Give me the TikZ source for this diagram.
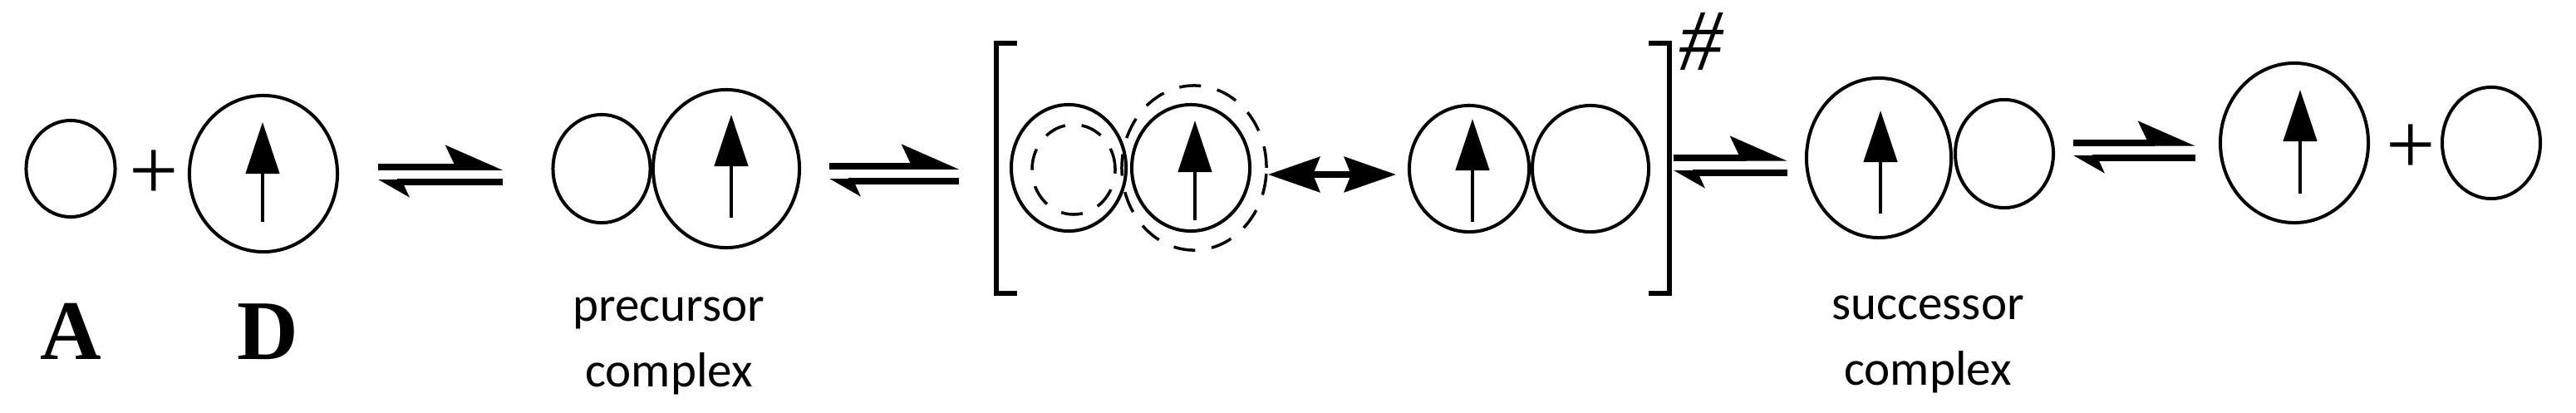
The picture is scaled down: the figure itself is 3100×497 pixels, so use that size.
\documentclass[tikz,border=0pt]{standalone}
\usepackage{fontspec}
\setmainfont{Carlito}
\newfontfamily\timesfont{Liberation Serif}
\usetikzlibrary{shapes.geometric}
\usetikzlibrary{arrows.meta}

\begin{document}
\begin{tikzpicture}[x=0.01cm, y=-0.01cm,
    mol/.style={ellipse, draw, line width=0.04cm, inner sep=0pt},
    shell/.style={ellipse, draw, line width=0.035cm, dash pattern=on 0.26cm off 0.2cm, inner sep=0pt},
    spin/.style={line width=0.045cm, -{Triangle[length=0.62cm, width=0.4cm]}},
    fwd/.style={line width=0.075cm, -{Stealth[harpoon, length=0.6cm, width=0.52cm, inset=0.12cm]}},
    bwd/.style={line width=0.075cm, -{Stealth[harpoon, length=0.32cm, width=0.36cm, inset=0.08cm]}},
    swap/.style={line width=0.08cm, {Stealth[length=0.62cm, width=0.42cm, inset=0.08cm]}-{Stealth[length=0.62cm, width=0.42cm, inset=0.08cm]}},
    plus/.style={font=\timesfont\fontsize{30}{36}\selectfont, inner sep=0pt},
    lbl/.style={font=\fontsize{16.8}{22.2}\selectfont, align=center, inner sep=0pt}]
    \useasboundingbox (0,0) rectangle (3100,497);
    % Reactants:
    \node[mol, minimum width=1.07cm, minimum height=1.16cm](N1) at (85,203){};
    \node[plus](P1) at (185,211){+};
    \node[mol, minimum width=1.78cm, minimum height=1.88cm](N2) at (317,209){};
    \draw[spin] (316,267) -- (316,147);
    \node[anchor=base, font=\timesfont\bfseries\fontsize{29}{35}\selectfont](L1) at (85,432){A};
    \node[anchor=base, font=\timesfont\bfseries\fontsize{29}{35}\selectfont](L2) at (322,432){D};
    % Equilibria:
    \coordinate (E1a) at (455,210); \coordinate (E1b) at (605,210);
    \coordinate (E2a) at (998,209); \coordinate (E2b) at (1154,209);
    \coordinate (E3a) at (2014,199); \coordinate (E3b) at (2151,199);
    \coordinate (E4a) at (2495,181); \coordinate (E4b) at (2642,181);
    \foreach \a/\b in {E1a/E1b, E2a/E2b, E3a/E3b, E4a/E4b}{
        \draw[fwd] ([yshift=0.09cm]\a) -- ([yshift=0.09cm]\b);
        \draw[bwd] ([yshift=-0.09cm]\b) -- ([yshift=-0.09cm]\a);
    }
    % Precursor complex:
    \node[mol, minimum width=1.17cm, minimum height=1.3cm](N3) at (724,203){};
    \node[mol, minimum width=1.76cm, minimum height=1.9cm](N4) at (874,203){};
    \draw[spin] (880,262) -- (880,138);
    \node[lbl, anchor=base](L3) at (805,465){precursor\\complex};
    % Transition state:
    \draw[line width=0.06cm] (1224,52) -- (1199,52) -- (1199,353) -- (1224,353);
    \node[mol, minimum width=1.38cm, minimum height=1.52cm](N5) at (1286,202){};
    \node[shell, minimum width=1.0cm, minimum height=1.08cm](S1) at (1292,204){};
    \node[mol, minimum width=1.42cm, minimum height=1.52cm](N6) at (1433,202){};
    \node[shell, minimum width=1.74cm, minimum height=1.98cm](S2) at (1437,202){};
    \draw[spin] (1438,265) -- (1438,145);
    \coordinate (R1a) at (1526,210); \coordinate (R1b) at (1680,210);
    \draw[swap] (R1a) -- (R1b);
    \node[mol, minimum width=1.44cm, minimum height=1.52cm](N7) at (1768,203){};
    \draw[spin] (1772,267) -- (1772,143);
    \node[mol, minimum width=1.4cm, minimum height=1.52cm](N8) at (1914,203){};
    \draw[line width=0.06cm] (1984,52) -- (2009,52) -- (2009,353) -- (1984,353);
    \node[font=\timesfont\itshape\fontsize{30}{36}\selectfont, inner sep=0pt](H1) at (2047,50){\#};
    % Successor complex:
    \node[mol, minimum width=1.74cm, minimum height=1.92cm](N9) at (2261,190){};
    \draw[spin] (2263,257) -- (2263,133);
    \node[mol, minimum width=1.18cm, minimum height=1.3cm](N10) at (2412,185){};
    \node[lbl, anchor=base](L4) at (2320,463){successor\\complex};
    % Products:
    \node[mol, minimum width=1.78cm, minimum height=1.92cm](N11) at (2761,172){};
    \draw[spin] (2768,233) -- (2768,108);
    \node[plus](P2) at (2901,180){+};
    \node[mol, minimum width=1.18cm, minimum height=1.34cm](N12) at (2998,172){};
\end{tikzpicture}
\end{document}
